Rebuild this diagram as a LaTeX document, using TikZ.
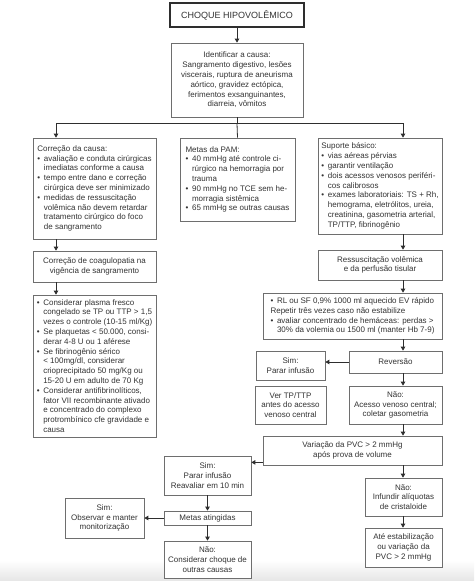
\documentclass[tikz,border=0pt]{standalone}
\usepackage{fontspec}
\setmainfont{Liberation Sans}
\usetikzlibrary{arrows.meta,calc}
\definecolor{txt}{HTML}{333333}
\definecolor{edge}{HTML}{6E6E6E}
\definecolor{lnc}{HTML}{2E2E2E}
\newcommand{\bl}{\makebox[6.5pt][l]{\textbullet}}
\newcommand{\ind}{\hspace*{6.5pt}}
\begin{document}
\begin{tikzpicture}[x=1pt,y=-1pt,
  bx/.style={draw=edge, line width=0.75pt, fill=white, text=txt,
    font=\fontsize{8}{9.8}\selectfont, inner sep=0pt, align=center},
  bxl/.style={bx, align=left},
  arr/.style={draw=lnc, line width=0.8pt, -{Triangle[length=4pt,width=4.5pt]}},
  lnk/.style={draw=lnc, line width=0.8pt}]
\useasboundingbox (0,0) rectangle (474,581);
\fill[white] (0,0) rectangle (474,581);
\shade[top color=white, bottom color=black!10] (0,560) rectangle (474,581);

\node[bx, draw=lnc, line width=1.6pt, font=\fontsize{9}{11}\selectfont,
  minimum width=134, minimum height=24] (title) at (237,15) {CHOQUE HIPOVOLÊMICO};

\node[bx, minimum width=132, minimum height=74] (ident) at (237,80)
 {Identificar a causa:\\Sangramento digestivo, lesões\\viscerais, ruptura de aneurisma\\aórtico, gravidez ectópica,\\ferimentos exsanguinantes,\\diarreia, vômitos};

\node[bxl, minimum width=123, minimum height=101] (corr) at (94.5,188.5)
 {Correção da causa:\\
  \bl avaliação e conduta cirúrgicas\\
  \ind imediatas conforme a causa\\
  \bl tempo entre dano e correção\\
  \ind cirúrgica deve ser minimizado\\
  \bl medidas de ressuscitação\\
  \ind volêmica não devem retardar\\
  \ind tratamento cirúrgico do foco\\
  \ind de sangramento};

\node[bxl, minimum width=115, minimum height=83] (pam) at (237.5,179.5)
 {Metas da PAM:\\
  \bl 40 mmHg até controle ci-\\
  \ind rúrgico na hemorragia por\\
  \ind trauma\\
  \bl 90 mmHg no TCE sem he-\\
  \ind morragia sistêmica\\
  \bl 65 mmHg se outras causas};

\node[bxl, minimum width=124, minimum height=96] (sup) at (380,186)
 {Suporte básico:\\
  \bl vias aéreas pérvias\\
  \bl garantir ventilação\\
  \bl dois acessos venosos periféri-\\
  \ind cos calibrosos\\
  \bl exames laboratoriais: TS + Rh,\\
  \ind hemograma, eletrólitos, ureia,\\
  \ind creatinina, gasometria arterial,\\
  \ind TP/TTP, fibrinogênio};

\node[bx, minimum width=123, minimum height=31] (coag) at (94.5,266.5)
 {Correção de coagulopatia na\\vigência de sangramento};

\node[bxl, minimum width=123, minimum height=142] (big) at (94.5,366)
 {\bl Considerar plasma fresco\\
  \ind congelado se TP ou TTP > 1,5\\
  \ind vezes o controle (10-15 ml/Kg)\\
  \bl Se plaquetas < 50.000, consi-\\
  \ind derar 4-8 U ou 1 aférese\\
  \bl Se fibrinogênio sérico\\
  \ind < 100mg/dl, considerar\\
  \ind crioprecipitado 50 mg/Kg ou\\
  \ind 15-20 U em adulto de 70 Kg\\
  \bl Considerar antifibrinolíticos,\\
  \ind fator VII recombinante ativado\\
  \ind e concentrado do complexo\\
  \ind protrombínico cfe gravidade e\\
  \ind causa};

\node[bx, minimum width=124, minimum height=30] (ress) at (380,265)
 {Ressuscitação volêmica\\e da perfusão tisular};

\node[bxl, minimum width=179, minimum height=46] (rl) at (352.5,316)
 {\bl RL ou SF 0,9\% 1000 ml aquecido EV rápido\\
  Repetir três vezes caso não estabilize\\
  \bl avaliar concentrado de hemáceas: perdas >\\
  \ind 30\% da volemia ou 1500 ml (manter Hb 7-9)};

\node[bx, minimum width=93, minimum height=22] (rev) at (395.5,362) {Reversão};
\node[bx, minimum width=69, minimum height=29] (simp) at (290.5,365.5) {Sim:\\Parar infusão};
\node[bx, minimum width=71, minimum height=38] (ver) at (290.5,405) {Ver TP/TTP\\antes do acesso\\venoso central};
\node[bx, minimum width=93, minimum height=38] (nao1) at (395.5,405) {Não:\\Acesso venoso central;\\coletar gasometria};
\node[bx, minimum width=179, minimum height=29] (var) at (352.5,450.5) {Variação da PVC > 2 mmHg\\após prova de volume};
\node[bx, minimum width=87, minimum height=39] (simr) at (207.5,475.5) {Sim:\\Parar infusão\\Reavaliar em 10 min};
\node[bx, minimum width=77, minimum height=38] (nao2) at (403.5,497) {Não:\\Infundir alíquotas\\de cristaloide};
\node[bx, minimum width=77, minimum height=39] (ate) at (403.5,547.5) {Até estabilização\\ou variação da\\PVC > 2 mmHg};
\node[bx, minimum width=87, minimum height=14] (metas) at (207.5,518) {Metas atingidas};
\node[bx, minimum width=79, minimum height=40] (simo) at (104.5,518) {Sim:\\Observar e manter\\monitorização};
\node[bx, minimum width=87, minimum height=37] (nao3) at (207.5,559.5) {Não:\\Considerar choque de\\outras causas};

\coordinate (lc) at (56,0);
\coordinate (rc) at (403,0);

\draw[arr] (title) -- (ident);
\draw[lnk] (ident.south) -- ++(0,6) coordinate (br);
\draw[arr] (br) -| (corr.north -| lc);
\draw[arr] (br) -| (sup.north -| rc);
\draw[lnk] (br) -- (pam.north);
\draw[arr] (corr.south -| lc) -- (coag.north -| lc);
\draw[arr] (coag.south -| lc) -- (big.north -| lc);
\draw[arr] (sup.south -| rc) -- (ress.north -| rc);
\draw[arr] (ress.south -| rc) -- (rl.north -| rc);
\draw[arr] (rl.south -| rc) -- (rev.north -| rc);
\draw[arr] (rev.west) -- (rev.west -| simp.east);
\draw[arr] (rev.south -| rc) -- (nao1.north -| rc);
\draw[arr] (nao1.south -| rc) -- (var.north -| rc);
\draw[arr] ([yshift=3pt]var.south west) coordinate (va) -- (va -| simr.east);
\draw[arr] (var.south -| rc) -- (nao2.north -| rc);
\draw[arr] (nao2.south -| rc) -- (ate.north -| rc);
\draw[arr] (simr) -- (metas);
\draw[arr] (metas) -- (nao3);
\draw[arr] (metas) -- (simo);
\end{tikzpicture}
\end{document}
